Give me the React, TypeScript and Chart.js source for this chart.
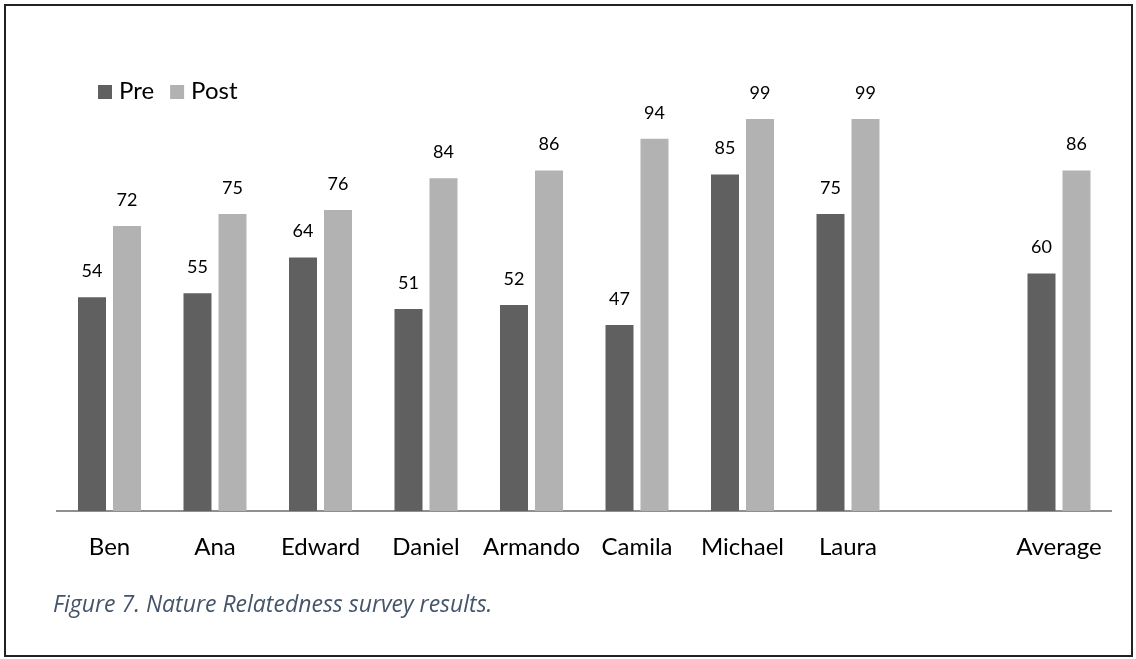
import React, { useEffect, useRef } from "react";
import { Chart, registerables } from "chart.js";

Chart.register(...registerables);

const categories: string[] = ["Ben", "Ana", "Edward", "Daniel", "Armando", "Camila", "Michael", "Laura", "", "Average"];
const preValues: (number | null)[] = [54, 55, 64, 51, 52, 47, 85, 75, null, 60];
const postValues: (number | null)[] = [72, 75, 76, 84, 86, 94, 99, 99, null, 86];
const seriesNames: string[] = ["Pre", "Post"];
const captionText = "Figure 7. Nature Relatedness survey results.";

const PRE_COLOR = "#606060";
const POST_COLOR = "#b2b2b2";
const FONT = "Lato, 'Open Sans', sans-serif";

const valueLabelPlugin = {
  id: "valueLabels",
  afterDatasetsDraw(chart: any) {
    const ctx = chart.ctx;
    ctx.save();
    ctx.font = `18px ${FONT}`;
    ctx.fillStyle = "#000000";
    ctx.textAlign = "center";
    ctx.textBaseline = "middle";
    chart.data.datasets.forEach((ds: any, i: number) => {
      const meta = chart.getDatasetMeta(i);
      meta.data.forEach((el: any, j: number) => {
        const v = ds.data[j];
        if (v == null) return;
        ctx.fillText(String(v), el.x, el.y - 26);
      });
    });
    ctx.restore();
  },
};

const legendPlugin = {
  id: "customLegend",
  afterDraw(chart: any) {
    const ctx = chart.ctx;
    ctx.save();
    ctx.font = `24px ${FONT}`;
    ctx.textBaseline = "alphabetic";
    ctx.textAlign = "left";
    let x = 98;
    const boxTop = 85;
    const box = 14;
    chart.data.datasets.forEach((ds: any) => {
      ctx.fillStyle = ds.backgroundColor;
      ctx.fillRect(x, boxTop, box, box);
      ctx.fillStyle = "#000000";
      ctx.fillText(ds.label, x + 21, boxTop + box);
      x += 21 + ctx.measureText(ds.label).width + 16;
    });
    ctx.restore();
  },
};

function BarChart() {
  const canvasRef = useRef<HTMLCanvasElement | null>(null);
  useEffect(() => {
    if (!canvasRef.current) return;
    const chart = new Chart(canvasRef.current, {
      type: "bar",
      data: {
        labels: categories,
        datasets: [
          {
            label: seriesNames[0],
            data: preValues,
            backgroundColor: PRE_COLOR,
            categoryPercentage: 0.6635,
            barPercentage: 0.8,
          },
          {
            label: seriesNames[1],
            data: postValues,
            backgroundColor: POST_COLOR,
            categoryPercentage: 0.6635,
            barPercentage: 0.8,
          },
        ] as any,
      },
      options: {
        responsive: false,
        animation: false,
        devicePixelRatio: 1,
        layout: { padding: { left: 56.75, right: 24.25, top: 35.8, bottom: 0 } },
        plugins: {
          legend: { display: false },
          tooltip: { enabled: false },
        },
        scales: {
          x: {
            grid: { display: false, drawTicks: false },
            border: { display: true, color: "#8f8f8f", width: 2 },
            ticks: {
              color: "#000000",
              font: { family: FONT, size: 24 },
              padding: 22,
              maxRotation: 0,
              autoSkip: false,
            },
            afterFit: (scale: any) => {
              scale.height = 148;
            },
          },
          y: {
            display: false,
            min: 0,
            max: 120,
          },
        },
      } as any,
      plugins: [valueLabelPlugin, legendPlugin],
    });
    return () => chart.destroy();
  }, []);
  return <canvas ref={canvasRef} width={1136} height={659} style={{ position: "absolute", left: 0, top: 0 }} />;
}

export default function App() {
  return (
    <div style={{ position: "fixed", left: 0, top: 0, width: 1136, height: 659, background: "#ffffff", overflow: "hidden" }}>
      <BarChart />
      <div
        style={{
          position: "absolute",
          left: 4,
          top: 4,
          width: 1129,
          height: 653,
          border: "2px solid #222222",
          boxSizing: "border-box",
          pointerEvents: "none",
        }}
      />
      <div
        style={{
          position: "absolute",
          left: 53,
          top: 592,
          fontFamily: "'Open Sans', Lato, sans-serif",
          fontStyle: "italic",
          fontSize: 23,
          lineHeight: "23px",
          color: "#44546a",
          whiteSpace: "nowrap",
        }}
      >
        {captionText}
      </div>
    </div>
  );
}
